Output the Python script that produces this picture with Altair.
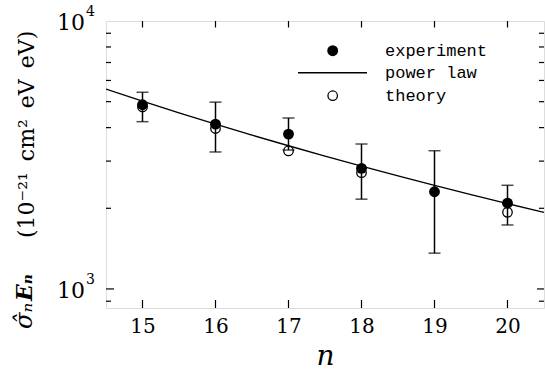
import altair as alt
import pandas as pd

# ---- data ----
n_vals = [15, 16, 17, 18, 19, 20]
exp_vals = [4870, 4120, 3785, 2820, 2305, 2090]
err_hi = [5420, 4980, 4345, 3475, 3280, 2437]
err_lo = [4210, 3245, 3300, 2163, 1360, 1733]

theory_n = [15, 16, 17, 18, 20]
theory_vals = [4775, 3970, 3275, 2716, 1932]

law_n = [14.5, 15, 15.5, 16, 16.5, 17, 17.5, 18, 18.5, 19, 19.5, 20, 20.5]
law_vals = [5570, 5021, 4542, 4122, 3751, 3423, 3133, 2874, 2643, 2436, 2250, 2082, 1931]

x_ticks = [15, 16, 17, 18, 19, 20]
y_minor = [900, 2000, 3000, 4000, 5000, 6000, 7000, 8000, 9000]
y_major = [1000]
y_label_vals = [1000, 10000]
y_label_base = ["10", "10"]
y_label_exp = ["3", "4"]

legend_labels = ["experiment", "power law", "theory"]

W, H = 438, 287
SERIF = "DejaVu Serif"
SP = "\u2002"

x_scale = alt.Scale(domain=[14.5, 20.5], nice=False, zero=False)
y_scale = alt.Scale(type="log", domain=[849, 10000], nice=False)

pts = pd.DataFrame({"n": n_vals, "v": exp_vals, "hi": err_hi, "lo": err_lo})
th = pd.DataFrame({"n": theory_n, "v": theory_vals})
law = pd.DataFrame({"n": law_n, "v": law_vals})

x_enc = alt.X("n:Q", scale=x_scale,
              axis=alt.Axis(values=x_ticks, format="d", ticks=False, domain=False, grid=False,
                            labelFont=SERIF, labelFontSize=20, labelColor="black", labelPadding=8,
                            title="n", titleFont=SERIF, titleFontStyle="italic", titleFontWeight="normal",
                            titleFontSize=28, titleColor="black", titlePadding=6))

line = alt.Chart(law).mark_line(color="black", strokeWidth=1.4, clip=True).encode(
    x=x_enc, y=alt.Y("v:Q", scale=y_scale, axis=None))

bars = alt.Chart(pts).mark_rule(color="black", strokeWidth=1.5).encode(
    x=alt.X("n:Q", scale=x_scale), y=alt.Y("lo:Q", scale=y_scale, axis=None), y2="hi:Q")
cap_hi = alt.Chart(pts).mark_tick(color="black", orient="horizontal", size=12, thickness=1.5).encode(
    x=alt.X("n:Q", scale=x_scale), y=alt.Y("hi:Q", scale=y_scale, axis=None))
cap_lo = alt.Chart(pts).mark_tick(color="black", orient="horizontal", size=12, thickness=1.5).encode(
    x=alt.X("n:Q", scale=x_scale), y=alt.Y("lo:Q", scale=y_scale, axis=None))

theory = alt.Chart(th).mark_point(shape="circle", filled=False, color="black", size=90,
                                  strokeWidth=1.3, opacity=1).encode(
    x=alt.X("n:Q", scale=x_scale), y=alt.Y("v:Q", scale=y_scale, axis=None))
expt = alt.Chart(pts).mark_circle(color="black", size=118, opacity=1).encode(
    x=alt.X("n:Q", scale=x_scale), y=alt.Y("v:Q", scale=y_scale, axis=None))

# inward frame ticks
ymin_df = pd.DataFrame({"y": y_minor})
ymaj_df = pd.DataFrame({"y": y_major})
xt_df = pd.DataFrame({"x": x_ticks})
yenc = alt.Y("y:Q", scale=y_scale, axis=None)
tl_min = alt.Chart(ymin_df).mark_rule(color="black", strokeWidth=1.2).encode(
    x=alt.value(0), x2=alt.value(5), y=yenc)
tl_maj = alt.Chart(ymaj_df).mark_rule(color="black", strokeWidth=1.2).encode(
    x=alt.value(0), x2=alt.value(8), y=yenc)
tr_min = alt.Chart(ymin_df).mark_rule(color="black", strokeWidth=1.2).encode(
    x=alt.value(W), x2=alt.value(W - 5), y=yenc)
tr_maj = alt.Chart(ymaj_df).mark_rule(color="black", strokeWidth=1.2).encode(
    x=alt.value(W), x2=alt.value(W - 7), y=yenc)
tb = alt.Chart(xt_df).mark_rule(color="black", strokeWidth=1.2).encode(
    x=alt.X("x:Q", scale=x_scale), y=alt.value(H), y2=alt.value(H - 8))
tt = alt.Chart(xt_df).mark_rule(color="black", strokeWidth=1.2).encode(
    x=alt.X("x:Q", scale=x_scale), y=alt.value(0), y2=alt.value(6.5))

# y tick labels 10^3, 10^4
yl_df = pd.DataFrame({"y": y_label_vals, "b": y_label_base, "e": y_label_exp})
yl_base = alt.Chart(yl_df).mark_text(font=SERIF, fontSize=22, align="right", baseline="middle",
                                     dy=2, color="black").encode(
    x=alt.value(-21), y=yenc, text="b:N")
yl_exp = alt.Chart(yl_df).mark_text(font=SERIF, fontSize=14, align="left", baseline="middle",
                                    dy=-9, color="black").encode(
    x=alt.value(-20), y=yenc, text="e:N")

# legend
leg_dot = alt.Chart(pd.DataFrame({"k": [legend_labels[0]]})).mark_circle(
    color="black", size=118, opacity=1).encode(x=alt.value(226.7), y=alt.value(29.7))
leg_line = alt.Chart(pd.DataFrame({"k": [legend_labels[1]]})).mark_rule(
    color="black", strokeWidth=1.6).encode(x=alt.value(192), x2=alt.value(261), y=alt.value(51.7))
leg_circ = alt.Chart(pd.DataFrame({"k": [legend_labels[2]]})).mark_point(
    shape="circle", filled=False, color="black", size=90, strokeWidth=1.3, opacity=1).encode(
    x=alt.value(226.7), y=alt.value(74.7))
leg_txt = alt.Chart(pd.DataFrame({"k": legend_labels, "yy": [29.7, 51.7, 74.7]})).mark_text(
    font="Liberation Mono", fontSize=17, align="left", baseline="middle", color="black").encode(
    x=alt.value(279), y=alt.Y("yy:Q", scale=None), text="k:N")

# y title (rotated)
t1a = alt.Chart(pd.DataFrame({"t": ["σ̂ₙ"]})).mark_text(
    font=SERIF, fontSize=24, fontStyle="italic", angle=270, align="left",
    baseline="alphabetic", color="black").encode(x=alt.value(-74), y=alt.value(308), text="t:N")
t1b = alt.Chart(pd.DataFrame({"t": ["Eₙ"]})).mark_text(
    font=SERIF, fontSize=22, fontStyle="italic", fontWeight="bold", angle=270, align="left",
    baseline="alphabetic", color="black").encode(x=alt.value(-74), y=alt.value(280), text="t:N")
t2 = alt.Chart(pd.DataFrame({"t": ["(10⁻²¹" + SP + "cm²" + SP + "eV" + SP + "eV)"]})).mark_text(
    font=SERIF, fontSize=22, angle=270, align="left", baseline="alphabetic",
    color="black").encode(x=alt.value(-72), y=alt.value(217), text="t:N")

chart = alt.layer(
    line, bars, cap_hi, cap_lo, theory, expt,
    tl_min, tl_maj, tr_min, tr_maj, tb, tt,
    yl_base, yl_exp, leg_dot, leg_line, leg_circ, leg_txt, t1a, t1b, t2
).properties(
    width=W, height=H,
    autosize=alt.AutoSizeParams(type="none"),
    padding={"left": 106, "top": 21, "right": 1, "bottom": 67},
).configure_view(stroke="black", strokeWidth=2).configure(background="white")

chart.save("out.html", embed_options={"renderer": "svg", "actions": False})
